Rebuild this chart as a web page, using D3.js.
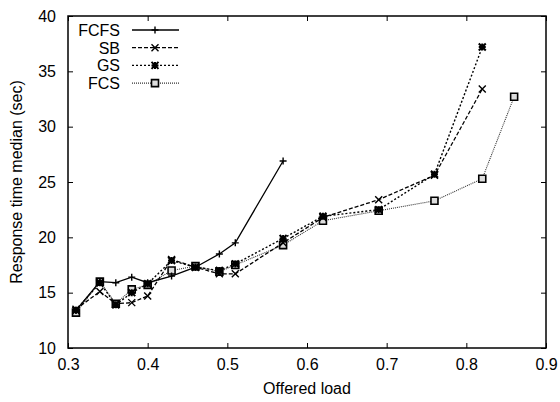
<!DOCTYPE html>
<html>
<head>
<meta charset="utf-8">
<script src="https://cdn.jsdelivr.net/npm/d3@7"></script>
<style>
body { margin: 0; background: #fff; }
text { font-family: "Liberation Sans", Arial, sans-serif; font-size: 16px; fill: #000; }
</style>
</head>
<body>
<script>
// offered load points (x axis)
var loads = [0.31, 0.34, 0.36, 0.38, 0.40, 0.43, 0.46, 0.49, 0.51, 0.57, 0.62, 0.69, 0.76, 0.82, 0.86];

// response time median (sec) per policy
var fcfs = [13.4, 16.0, 15.9, 16.4, 15.9, 16.5, 17.3, 18.5, 19.5, 26.9];
var sb   = [13.5, 15.1, 14.0, 14.1, 14.7, 18.0, 17.3, 16.7, 16.7, 19.5, 21.8, 23.4, 25.6, 33.4];
var gs   = [13.4, 15.9, 13.9, 15.0, 15.8, 17.9, 17.3, 17.0, 17.6, 19.9, 21.9, 22.5, 25.7, 37.2];
var fcs  = [13.2, 16.0, 14.0, 15.3, 15.7, 17.0, 17.4, 16.9, 17.5, 19.3, 21.5, 22.4, 23.3, 25.3, 32.7];

var seriesNames = ['FCFS', 'SB', 'GS', 'FCS'];
var xTicks = [0.3, 0.4, 0.5, 0.6, 0.7, 0.8, 0.9];
var yTicks = [10, 15, 20, 25, 30, 35, 40];

var W = 560, H = 402;
var mLeft = 68, mRight = 546, mTop = 16, mBottom = 348;

var x = d3.scaleLinear().domain([0.3, 0.9]).range([mLeft, mRight]);
var y = d3.scaleLinear().domain([10, 40]).range([mBottom, mTop]);

var svg = d3.select('body').append('svg').attr('width', W).attr('height', H);

var styles = {
	FCFS: {dash: null, color: '#000', width: 1.3, marker: 'plus'},
	SB:   {dash: '4,2', color: '#000', width: 1.3, marker: 'cross'},
	GS:   {dash: '2,2', color: '#000', width: 1.4, marker: 'star'},
	FCS:  {dash: '1,1', color: '#333', width: 1.1, marker: 'box'}
};

var data = {
	FCFS: fcfs.map(function(v, i){ return [loads[i], v]; }),
	SB: sb.map(function(v, i){ return [loads[i], v]; }),
	GS: gs.map(function(v, i){ return [loads[i], v]; }),
	FCS: fcs.map(function(v, i){ return [loads[i], v]; })
};

// axes: inside ticks, mirrored
var tl = 5;
svg.append('g').attr('transform', 'translate(0,' + mBottom + ')')
	.call(d3.axisBottom(x).tickValues(xTicks).tickSizeInner(-tl).tickSizeOuter(0).tickPadding(11).tickFormat(d3.format('.1f')));
svg.append('g').attr('transform', 'translate(0,' + mTop + ')')
	.call(d3.axisTop(x).tickValues(xTicks).tickSizeInner(-tl).tickSizeOuter(0).tickFormat(''));
svg.append('g').attr('transform', 'translate(' + mLeft + ',0)')
	.call(d3.axisLeft(y).tickValues(yTicks).tickSizeInner(-tl).tickSizeOuter(0).tickPadding(12));
svg.append('g').attr('transform', 'translate(' + mRight + ',0)')
	.call(d3.axisRight(y).tickValues(yTicks).tickSizeInner(-tl).tickSizeOuter(0).tickFormat(''));

svg.selectAll('.domain').remove();
svg.selectAll('.tick line').attr('stroke', '#000').attr('stroke-width', 1);
svg.selectAll('.tick text').style('font-size', '16px').attr('fill', '#000');

svg.append('rect').attr('x', mLeft).attr('y', mTop).attr('width', mRight - mLeft).attr('height', mBottom - mTop)
	.attr('fill', 'none').attr('stroke', '#000').attr('stroke-width', 1.5);

var markerPath = function(type){
	var s = 3.5;
	if(type == 'plus') return 'M' + (-s) + ',0H' + s + 'M0,' + (-s) + 'V' + s;
	if(type == 'cross') return 'M' + (-s) + ',' + (-s) + 'L' + s + ',' + s + 'M' + (-s) + ',' + s + 'L' + s + ',' + (-s);
	if(type == 'star') return 'M' + (-s) + ',0H' + s + 'M0,' + (-s) + 'V' + s + 'M' + (-s) + ',' + (-s) + 'L' + s + ',' + s + 'M' + (-s) + ',' + s + 'L' + s + ',' + (-s);
	return 'M' + (-s) + ',' + (-s) + 'H' + s + 'V' + s + 'H' + (-s) + 'Z';
};

var drawMarker = function(g, type, px, py){
	var p = g.append('path').attr('d', markerPath(type)).attr('transform', 'translate(' + px + ',' + py + ')')
		.attr('stroke', '#000').attr('fill', 'none');
	if(type == 'star') p.attr('stroke-width', 2);
	else if(type == 'box') p.attr('stroke-width', 1.6).attr('fill', '#ddd');
	else p.attr('stroke-width', 1.4);
};

var line = d3.line().x(function(d){ return x(d[0]); }).y(function(d){ return y(d[1]); });

// draw FCS first so the heavier lines sit on top
['FCS', 'GS', 'SB', 'FCFS'].forEach(function(name){
	var st = styles[name];
	var g = svg.append('g');
	g.append('path').datum(data[name]).attr('d', line)
		.attr('fill', 'none').attr('stroke', st.color).attr('stroke-width', st.width)
		.attr('stroke-dasharray', st.dash);
	data[name].forEach(function(d){ drawMarker(g, st.marker, x(d[0]), y(d[1])); });
});

// legend
var legend = svg.append('g');
seriesNames.forEach(function(name, i){
	var st = styles[name];
	var ly = 30 + i * 17.7;
	legend.append('text').attr('x', 120).attr('y', ly + 6).attr('text-anchor', 'end').text(name);
	legend.append('line').attr('x1', 132).attr('x2', 179).attr('y1', ly).attr('y2', ly)
		.attr('stroke', st.color).attr('stroke-width', st.width).attr('stroke-dasharray', st.dash);
	drawMarker(legend, st.marker, 155, ly);
});

svg.append('text').attr('x', (mLeft + mRight) / 2).attr('y', 394).attr('text-anchor', 'middle').text('Offered load');
svg.append('text').attr('transform', 'translate(22,' + ((mTop + mBottom) / 2) + ') rotate(-90)')
	.attr('text-anchor', 'middle').text('Response time median (sec)');
</script>
</body>
</html>
